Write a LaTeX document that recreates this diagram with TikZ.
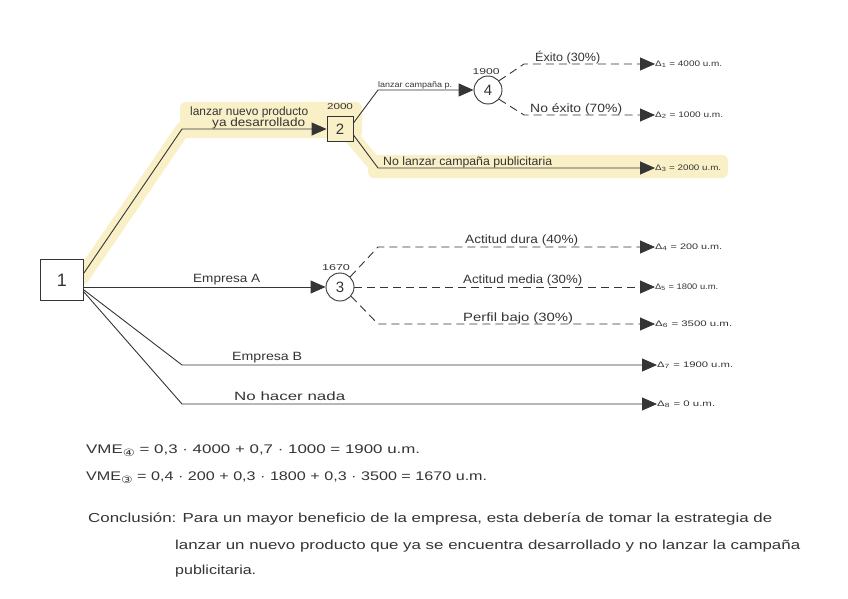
\documentclass[tikz,border=0pt]{standalone}
\usepackage{fontspec}
\usepackage{graphicx}
\setmainfont{Liberation Sans}
\newfontfamily\symfont{DejaVu Sans}
\usetikzlibrary{arrows.meta}
\definecolor{ink}{HTML}{353535}
\definecolor{hl}{HTML}{FAF0C8}
\newcommand{\fitw}[2]{\resizebox{#1}{\height}{#2}}
\newcommand{\circnum}[1]{\raisebox{-3pt}{\symfont\fontsize{10}{10}\selectfont #1}}
\begin{document}
\begin{tikzpicture}[x=1pt,y=-1pt,
  ln/.style={draw=ink,line width=0.9pt},
  arr/.style={-{Triangle[length=15pt,width=13pt]}},
  dsh/.style={dash pattern=on 8pt off 5pt},
  sqbox/.style={draw=ink,line width=0.9pt,rectangle,inner sep=0pt,text=ink},
  circ/.style={draw=ink,line width=0.9pt,circle,inner sep=0pt,minimum size=28pt,text=ink,fill=white,font=\fontsize{15}{15}\selectfont},
  lbl/.style={anchor=west,inner sep=0pt,text=ink,font=\fontsize{12}{13}\selectfont},
  sml/.style={anchor=west,inner sep=0pt,text=ink,font=\fontsize{8}{8}\selectfont},
  val/.style={inner sep=0pt,text=ink,font=\fontsize{8.5}{8.5}\selectfont},
  txt/.style={anchor=west,inner sep=0pt,text=ink,font=\fontsize{12.5}{14}\selectfont},
  ctxt/.style={anchor=west,inner sep=0pt,text=ink,font=\fontsize{13}{15}\selectfont},
]
\useasboundingbox (0,0) rectangle (848,599);
\fill[white] (0,0) rectangle (848,599);

% highlight of the chosen path
\fill[hl, rounded corners=6pt] (180,102) rectangle (362,138);
\draw[hl, line width=15pt, line cap=round, line join=round]
  (82,277) -- (183,129) -- (345,129) -- (378,168) -- (700,168);
\fill[hl, rounded corners=6pt] (368,155) rectangle (728,178);

% decision / chance nodes
\node[sqbox, minimum width=43pt, minimum height=41pt, fill=white, font=\fontsize{18}{18}\selectfont] (n1) at (62,280) {1};
\node[sqbox, minimum width=26pt, minimum height=25pt, fill=hl, font=\fontsize{15}{15}\selectfont] (n2) at (340,129) {2};
\node[circ] (n4) at (488,90) {4};
\node[circ] (n3) at (340,287) {3};

% node values
\node[val] (v2) at (340,107) {\fitw{26pt}{2000}};
\node[val] (v4) at (486,72) {\fitw{27pt}{1900}};
\node[val] (v3) at (336,268) {\fitw{28pt}{1670}};

% leaves
\node[sml] (d1) at (655,64) {\fitw{67pt}{Δ\textsubscript{1} = 4000 u.m.}};
\node[sml] (d2) at (655,115) {\fitw{68pt}{Δ\textsubscript{2} = 1000 u.m.}};
\node[sml] (d3) at (655,168) {\fitw{66pt}{Δ\textsubscript{3} = 2000 u.m.}};
\node[sml] (d4) at (655,247) {\fitw{67pt}{Δ\textsubscript{4} = 200 u.m.}};
\node[sml] (d5) at (655,287) {\fitw{63pt}{Δ\textsubscript{5} = 1800 u.m.}};
\node[sml] (d6) at (655,324) {\fitw{77pt}{Δ\textsubscript{6} = 3500 u.m.}};
\node[sml] (d7) at (657,365) {\fitw{76pt}{Δ\textsubscript{7} = 1900 u.m.}};
\node[sml] (d8) at (657,404) {\fitw{58pt}{Δ\textsubscript{8} = 0 u.m.}};

% bend points
\coordinate (c12) at (182,129);
\coordinate (c24) at (378,90);
\coordinate (c23) at (378,168);
\coordinate (c41) at (524,64);
\coordinate (c42) at (524,115);
\coordinate (c31) at (378,247);
\coordinate (c33) at (378,324);
\coordinate (cB) at (182,365);
\coordinate (cN) at (182,404);

% connectors
\draw[ln,arr] ([yshift=7pt]n1.east) -- (c12) -- (n2.west);
\draw[ln,arr] (n1.east |- n3.west) -- (n3.west);
\draw[ln,arr] ([yshift=-10pt]n1.east) -- (cB) -- (d7.west);
\draw[ln,arr] ([yshift=-12pt]n1.east) -- (cN) -- (d8.west);
\draw[ln,arr] ([yshift=6pt]n2.east) -- (c24) -- (n4.west);
\draw[ln,arr] ([yshift=-6pt]n2.east) -- (c23) -- (d3.west);
\draw[ln,dsh,arr] (n4.40) -- (c41) -- (d1.west);
\draw[ln,dsh,arr] (n4.-40) -- (c42) -- (d2.west);
\draw[ln,dsh,arr] (n3.45) -- (c31) -- (d4.west);
\draw[ln,dsh,arr] (n3.east) -- (d5.west);
\draw[ln,dsh,arr] (n3.-40) -- (c33) -- (d6.west);

% branch labels
\node[lbl] (l1a) at (190,112) {\fitw{118pt}{lanzar nuevo producto}};
\node[lbl] (l1b) at (212,123) {\fitw{93pt}{ya desarrollado}};
\node[sml] (l2) at (378,85) {\fitw{74pt}{lanzar campaña p.}};
\node[lbl] (l3) at (383,162) {\fitw{169pt}{No lanzar campaña publicitaria}};
\node[lbl] (l4) at (535,58) {\fitw{65pt}{Éxito (30\%)}};
\node[lbl] (l5) at (530,109) {\fitw{92pt}{No éxito (70\%)}};
\node[lbl] (l6) at (465,240) {\fitw{113pt}{Actitud dura (40\%)}};
\node[lbl] (l7) at (463,280) {\fitw{119pt}{Actitud media (30\%)}};
\node[lbl] (l8) at (463,318) {\fitw{110pt}{Perfil bajo (30\%)}};
\node[lbl] (l9) at (193,280) {\fitw{67pt}{Empresa A}};
\node[lbl] (l10) at (232,358) {\fitw{70pt}{Empresa B}};
\node[lbl] (l11) at (234,396) {\fitw{111pt}{No hacer nada}};

% calculations
\node[txt] (f1) at (86,451) {\fitw{334pt}{VME\circnum{④} = 0,3 · 4000 + 0,7 · 1000 = 1900 u.m.}};
\node[txt] (f2) at (86,478) {\fitw{401pt}{VME\circnum{③} = 0,4 · 200 + 0,3 · 1800 + 0,3 · 3500 = 1670 u.m.}};

% conclusion
\node[ctxt] (k1) at (88,519) {\fitw{684pt}{Conclusión: Para un mayor beneficio de la empresa, esta debería de tomar la estrategia de}};
\node[ctxt] (k2) at (175,546) {\fitw{625pt}{lanzar un nuevo producto que ya se encuentra desarrollado y no lanzar la campaña}};
\node[ctxt] (k3) at (175,571) {\fitw{81pt}{publicitaria.}};
\end{tikzpicture}
\end{document}
